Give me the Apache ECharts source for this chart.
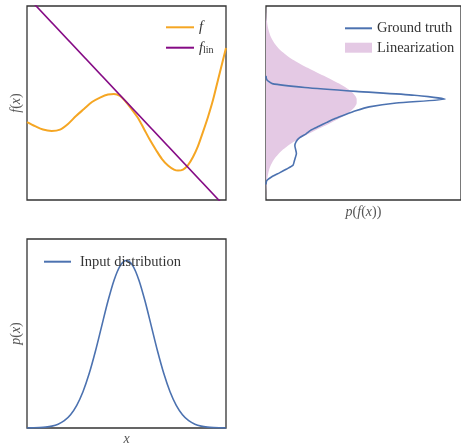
<!DOCTYPE html>
<html><head><meta charset="utf-8">
<script src="https://cdn.jsdelivr.net/npm/echarts@6/dist/echarts.min.js"></script>
<style>html,body{margin:0;padding:0;background:#fff}#c{width:461px;height:447px}</style>
</head><body><div id="c"></div>
<script>
// Panel 1: f(x) and its linearization
const fX = [-4.000,-3.678,-3.357,-3.007,-2.673,-2.352,-2.030,-1.709,-1.387,-1.065,-0.744,-0.503,-0.261,-0.020,0.221,0.462,0.704,0.945,1.186,1.427,1.668,1.910,2.070,2.271,2.472,2.673,2.874,3.075,3.276,3.477,3.678,3.839,4.000];
const fY = [4.02,3.81,3.63,3.56,3.63,3.92,4.33,4.69,5.05,5.28,5.44,5.46,5.36,5.05,4.66,4.23,3.66,3.09,2.58,2.11,1.78,1.57,1.52,1.57,1.80,2.22,2.78,3.51,4.28,5.15,6.19,7.01,7.84];
const linX = [-4, 4];
const linY = [10.5, -0.4];

// Panel 2: output densities over f levels
const fLevels = [0.0,0.2,0.4,0.6,0.8,1.0,1.2,1.4,1.6,1.8,2.0,2.2,2.4,2.6,2.8,3.0,3.2,3.4,3.6,3.8,4.0,4.2,4.4,4.6,4.8,5.0,5.2,5.4,5.6,5.8,6.0,6.2,6.4,6.6,6.8,7.0,7.2,7.4,7.6,7.8,8.0,8.2,8.4,8.6,8.8,9.0,9.2,9.4,9.6,9.8,10.0];
const gtDensity = ['-','-','-','-',0,0.004,0.030,0.069,0.106,0.139,0.145,0.151,0.156,0.152,0.148,0.154,0.171,0.204,0.230,0.271,0.312,0.354,0.405,0.460,0.529,0.668,0.920,0.760,0.461,0.199,0.032,0.004,0,'-','-','-','-','-','-','-','-','-','-','-','-','-','-','-','-','-','-'];
const linDensity = [0.000,0.001,0.001,0.002,0.003,0.005,0.008,0.012,0.017,0.025,0.035,0.049,0.066,0.087,0.112,0.142,0.177,0.215,0.254,0.296,0.336,0.375,0.409,0.435,0.455,0.465,0.465,0.455,0.436,0.409,0.375,0.337,0.297,0.256,0.216,0.178,0.143,0.113,0.088,0.066,0.049,0.036,0.025,0.018,0.012,0.008,0.005,0.003,0.002,0.001,0.001];

// Panel 3: input distribution
const inX = [-4,-3.75,-3.5,-3.25,-3,-2.75,-2.5,-2.25,-2,-1.75,-1.5,-1.25,-1,-0.75,-0.5,-0.25,0,0.25,0.5,0.75,1,1.25,1.5,1.75,2,2.25,2.5,2.75,3,3.25,3.5,3.75,4];
const inY = [0.0001,0.0004,0.0009,0.002,0.0044,0.0091,0.0175,0.0317,0.054,0.0863,0.1295,0.1826,0.242,0.3011,0.352,0.3867,0.3989,0.3867,0.352,0.3011,0.242,0.1826,0.1295,0.0863,0.054,0.0317,0.0175,0.0091,0.0044,0.002,0.0009,0.0004,0.0001];

const SERIF = 'Liberation Serif';
const C_ORANGE = '#f5a623', C_PURPLE = '#850a85', C_BLUE = '#4c72b0', C_PINK = '#e4c9e4';
const nameStyle = {fontFamily: SERIF, fontSize: 14, color: '#555',
  rich: {i: {fontFamily: SERIF, fontSize: 14, fontStyle: 'italic', color: '#555'}}};
const hidden = {axisLine:{show:false}, axisTick:{show:false}, axisLabel:{show:false}, splitLine:{show:false}};
const gridBase = {show:true, borderColor:'#333', borderWidth:1.3, backgroundColor:'transparent', containLabel:false};
const legendText = {fontFamily: SERIF, fontSize: 14.5, color: '#333', lineHeight: 15,
  rich: {i:{fontFamily: SERIF, fontSize: 14.5, fontStyle:'italic', color:'#333', lineHeight:15},
         s:{fontFamily: SERIF, fontSize: 10, color:'#333', lineHeight:15, verticalAlign:'bottom', padding:[6,0,0,0]}}};
const noSymbol = {opacity: 0};

const chart = echarts.init(document.getElementById('c'));
chart.setOption({
  animation: false,
  grid: [
    Object.assign({left:27, top:6, width:199, height:194}, gridBase),
    Object.assign({left:266, top:6, width:199, height:194}, gridBase),
    Object.assign({left:27, top:239, width:199, height:194}, gridBase)
  ],
  xAxis: [
    Object.assign({gridIndex:0, type:'value', min:-4, max:4}, hidden),
    Object.assign({gridIndex:1, type:'value', min:0, max:1, name:'{i|p}({i|f}({i|x}))', nameLocation:'middle', nameGap:5, nameTextStyle:nameStyle}, hidden),
    Object.assign({gridIndex:2, type:'value', min:-4, max:4, name:'{i|x}', nameLocation:'middle', nameGap:4, nameTextStyle:nameStyle}, hidden)
  ],
  yAxis: [
    Object.assign({gridIndex:0, type:'value', min:0, max:10, name:'{i|f}({i|x})', nameLocation:'middle', nameGap:4, nameTextStyle:nameStyle}, hidden),
    Object.assign({gridIndex:1, type:'category', data:fLevels, boundaryGap:false}, hidden),
    Object.assign({gridIndex:2, type:'value', min:0, max:0.45, name:'{i|p}({i|x})', nameLocation:'middle', nameGap:4, nameTextStyle:nameStyle}, hidden)
  ],
  legend: [
    {left:160, top:14.8, orient:'vertical', itemWidth:28, itemHeight:10, itemGap:4.4, data:['f','f_lin'], itemStyle: noSymbol,
     formatter: n => n === 'f' ? '{i|f}' : '{i|f}{s|lin}', textStyle: legendText, selectedMode:false},
    {left:339, top:15.8, orient:'vertical', itemWidth:27, itemHeight:10, itemGap:4.4, itemStyle: noSymbol,
     data:['Ground truth', {name:'Linearization', icon:'rect', itemStyle:{opacity:1, color:C_PINK}}], textStyle: legendText, selectedMode:false},
    {left:38, top:249.2, orient:'vertical', itemWidth:27, itemHeight:10, data:['Input distribution'], itemStyle: noSymbol,
     textStyle: Object.assign({}, legendText, {padding:[0,0,0,4]}), selectedMode:false}
  ],
  series: [
    {name:'f', type:'line', xAxisIndex:0, yAxisIndex:0, data: fX.map((x,i)=>[x, fY[i]]), smooth:0.3, symbol:'none',
     color:C_ORANGE, lineStyle:{color:C_ORANGE, width:2}},
    {name:'f_lin', type:'line', xAxisIndex:0, yAxisIndex:0, data: linX.map((x,i)=>[x, linY[i]]), symbol:'none',
     color:C_PURPLE, lineStyle:{color:C_PURPLE, width:1.6}},
    {name:'Linearization', type:'line', xAxisIndex:1, yAxisIndex:1, data: linDensity, smooth:0.3, symbol:'none',
     color:C_PINK, lineStyle:{width:0, color:C_PINK}, areaStyle:{color:C_PINK, opacity:1}},
    {name:'Ground truth', type:'line', xAxisIndex:1, yAxisIndex:1, data: gtDensity, smooth:0.2, symbol:'none',
     color:C_BLUE, lineStyle:{color:C_BLUE, width:1.6}},
    {name:'Input distribution', type:'line', xAxisIndex:2, yAxisIndex:2, data: inX.map((x,i)=>[x, inY[i]]), smooth:0.3, symbol:'none',
     color:C_BLUE, lineStyle:{color:C_BLUE, width:1.6}}
  ]
});
</script></body></html>
